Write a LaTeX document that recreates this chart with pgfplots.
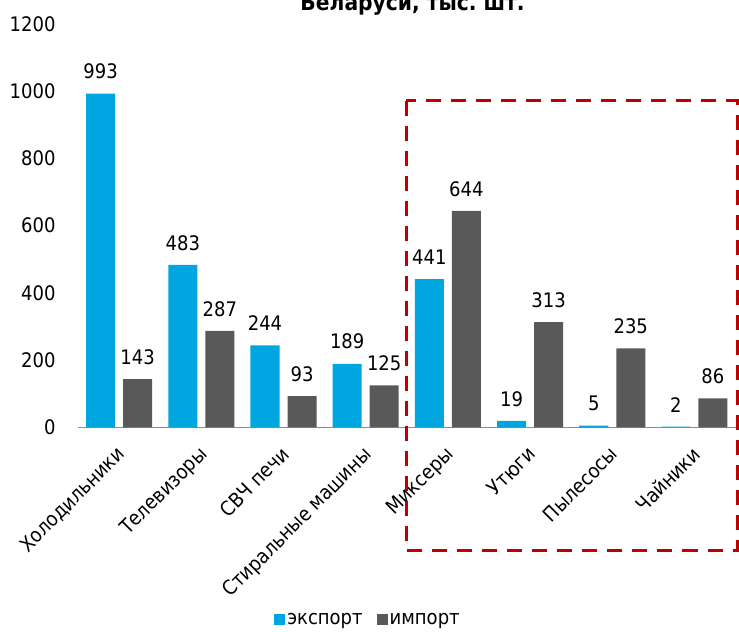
\documentclass[border=0pt]{standalone}
\usepackage{pgfplots}
\pgfplotsset{compat=1.18}
\usepackage{fontspec}
\setmainfont{DejaVu Sans Condensed}
\definecolor{exp}{HTML}{00A6E0}
\definecolor{imp}{HTML}{595959}
\definecolor{box}{HTML}{C00000}
\begin{document}
\begin{tikzpicture}
\begin{axis}[
    scale only axis,
    width=657pt, height=403pt,
    ybar=8pt, bar width=29pt,
    xmin=-0.5, xmax=7.5,
    ymin=0, ymax=1200,
    ytick={0,200,...,1200},
    xtick=data,
    xticklabels={Холодильники,Телевизоры,СВЧ печи,Стиральные машины,Миксеры,Утюги,Пылесосы,Чайники},
    x tick label style={rotate=45, anchor=north east, inner sep=1pt, xshift=-14pt, yshift=-9pt},
    major tick length=0pt,
    axis y line*=left,
    y axis line style={draw=none},
    axis x line*=bottom,
    x axis line style={draw=gray!90, line width=1.5pt, -},
    y tick label style={xshift=-19pt},
    every tick label/.style={font=\fontsize{20}{22}\selectfont},
    /pgf/number format/assume math mode=true,
    /pgf/number format/1000 sep={},
    nodes near coords,
    every node near coord/.append style={font=\fontsize{20}{22}\selectfont, black, yshift=11pt},
    clip=false,
    legend style={at={(axis description cs:0.441,-0.476)}, anchor=center, draw=none,
        font=\fontsize{20}{22}\selectfont, legend columns=2,
        /tikz/every even column/.append style={column sep=12pt}},
    legend image code/.code={\fill (0pt,-5.5pt) rectangle (11pt,5.5pt);},
]
\addplot[fill=exp, draw=none] coordinates {(0,993) (1,483) (2,244) (3,189) (4,441) (5,19) (6,5) (7,2)};
\addlegendentry{экспорт}
\addplot[fill=imp, draw=none] coordinates {(0,143) (1,287) (2,93) (3,125) (4,644) (5,313) (6,235) (7,86)};
\addlegendentry{импорт}
\draw[box, line width=3pt, dash pattern=on 15pt off 10pt]
    (axis cs:3.494,971) rectangle (axis cs:7.524,-366);
% page frame like the reference
\path (axis cs:0,1200) ++(0,24pt);
\path (rel axis cs:0,0) ++(-78pt,-204pt);
\node[overlay, font=\bfseries\fontsize{22.5}{24}\selectfont, anchor=base, yshift=14pt]
    at (axis cs:3.57,1200) {Беларуси, тыс.\ шт.};
\end{axis}
\end{tikzpicture}
\end{document}
